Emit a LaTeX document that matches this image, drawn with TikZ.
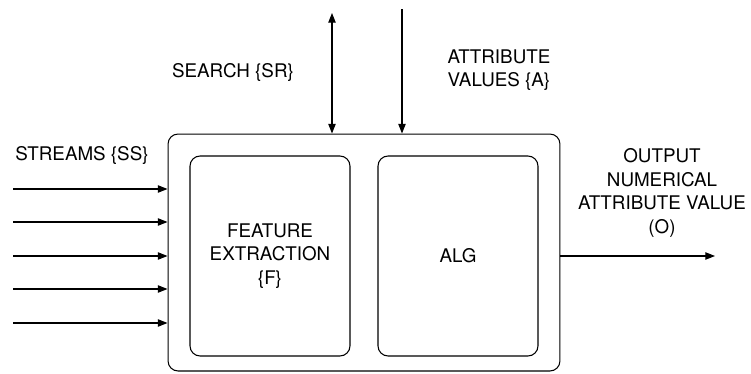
\documentclass[tikz,border=0pt]{standalone}
\usepackage{fontspec}
\setmainfont{TeX Gyre Heros}
\usepackage{tikz}
\usetikzlibrary{arrows.meta}

\tikzset{
    blockbox/.style={draw, line width=0.6pt, rounded corners=0.2cm, minimum width=3.2cm, minimum height=4cm, align=center},
    flow/.style={line width=0.6pt, -{Triangle[length=5.5pt, width=4.2pt]}},
    label/.style={align=center, inner sep=0pt}
}

\begin{document}
\begin{tikzpicture}[x=0.02cm, y=-0.02cm, font=\fontsize{10.7}{13.4}\selectfont]
        \useasboundingbox (0, 0) rectangle (751, 373);
        \node[draw, line width=0.6pt, rounded corners=0.2cm, minimum width=7.84cm, minimum height=4.74cm] (sys) at (364, 252.5) {};
        \node[blockbox] (feat) at (270, 256) {FEATURE\\EXTRACTION\\\{F\}};
        \node[blockbox] (alg) at (458, 256) {ALG};
        \foreach \y [count=\i] in {189, 222, 256, 289, 323} {
            \coordinate (ss\i) at (13, \y);
            \draw[flow] (ss\i) -- (ss\i -| sys.west);
        }
        \coordinate (sr) at (332, 13);
        \draw[flow, {Triangle[length=5.5pt, width=4.2pt]}-{Triangle[length=5.5pt, width=4.2pt]}] (sr) -- (sr |- sys.north);
        \coordinate (av) at (402, 9);
        \draw[flow] (av) -- (av |- sys.north);
        \coordinate (out) at (715, 256);
        \draw[flow] (out -| sys.east) -- (out);
        \node[label] (srlabel) at (233, 72) {SEARCH \{SR\}};
        \node[label] (sslabel) at (82, 155) {STREAMS \{SS\}};
        \node[label] (avlabel) at (499, 70) {ATTRIBUTE\\VALUES \{A\}};
        \node[label] (outlabel) at (662, 193) {OUTPUT\\NUMERICAL\\ATTRIBUTE VALUE\\(O)};
    \end{tikzpicture}
\end{document}
